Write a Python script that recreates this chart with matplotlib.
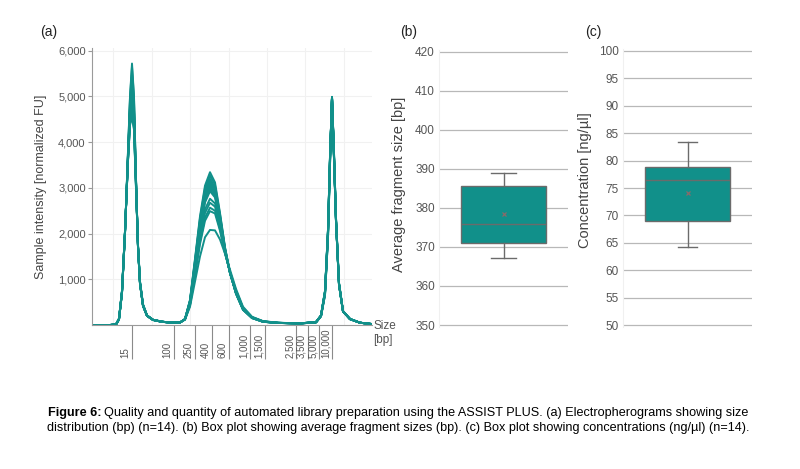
import matplotlib
matplotlib.use('Agg')
import matplotlib.pyplot as plt

plt.rcParams['font.family'] = ['Liberation Sans', 'DejaVu Sans']

# ---- (a) electropherograms: migration position of each sample point ----
position = [0, 18, 24, 27, 30, 33, 36, 38, 40, 42, 44, 46, 48, 51, 55, 61, 70, 80,
            88, 93, 98, 103, 108, 113, 118, 123, 128, 133, 138, 144, 151, 160, 171, 186, 208,
            224, 229, 233, 236, 238, 240, 242, 244, 247, 251, 258, 268, 280]

traces = [
    [0, 0, 10, 120, 700, 2000, 3800, 5000, 5720, 5000, 3200, 1700, 900, 420, 200, 110, 70, 50,
     55, 130, 550, 1450, 2380, 3050, 3343, 3120, 2450, 1700, 1150, 680, 330, 150, 70, 45, 35,
     60, 200, 700, 2000, 3600, 4990, 3700, 2300, 900, 300, 130, 50, 20],
    [0, 0, 10, 124, 710, 2020, 3720, 4780, 5300, 4720, 3150, 1705, 905, 422, 202, 111, 70, 50,
     55, 130, 540, 1420, 2330, 2990, 3271, 3060, 2420, 1690, 1150, 690, 335, 152, 70, 45, 35,
     65, 210, 740, 2080, 3680, 4970, 3640, 2260, 880, 295, 128, 50, 20],
    [0, 0, 10, 120, 700, 2000, 3780, 4960, 5650, 4950, 3190, 1700, 900, 420, 200, 110, 70, 50,
     55, 128, 530, 1390, 2280, 2920, 3199, 3000, 2380, 1670, 1140, 690, 340, 155, 72, 45, 35,
     55, 190, 660, 1920, 3520, 4980, 3760, 2340, 920, 305, 132, 50, 20],
    [0, 0, 11, 132, 730, 2038, 3650, 4540, 4900, 4460, 3090, 1720, 920, 432, 205, 113, 71, 51,
     55, 128, 520, 1360, 2240, 2880, 3150, 2960, 2360, 1660, 1140, 695, 342, 156, 72, 45, 35,
     62, 205, 720, 2040, 3640, 4960, 3680, 2280, 890, 298, 130, 50, 20],
    [0, 0, 10, 125, 712, 2020, 3710, 4750, 5250, 4690, 3140, 1705, 908, 423, 202, 111, 70, 50,
     55, 127, 515, 1340, 2210, 2840, 3111, 2930, 2340, 1650, 1140, 700, 345, 158, 73, 46, 35,
     60, 200, 700, 2000, 3600, 4990, 3700, 2300, 900, 300, 130, 50, 20],
    [0, 0, 12, 136, 740, 2045, 3620, 4440, 4700, 4350, 3050, 1730, 930, 440, 207, 114, 72, 52,
     55, 127, 505, 1310, 2170, 2800, 3060, 2890, 2320, 1645, 1140, 705, 348, 160, 74, 46, 35,
     65, 210, 740, 2080, 3680, 4970, 3640, 2260, 880, 295, 128, 50, 20],
    [0, 0, 10, 122, 705, 2010, 3750, 4880, 5500, 4850, 3170, 1700, 905, 420, 200, 110, 70, 50,
     55, 126, 500, 1290, 2140, 2760, 3024, 2860, 2300, 1640, 1140, 708, 350, 161, 74, 46, 35,
     55, 190, 660, 1920, 3520, 4980, 3760, 2340, 920, 305, 132, 50, 20],
    [0, 0, 12, 134, 735, 2042, 3635, 4480, 4800, 4400, 3070, 1725, 925, 435, 206, 113, 72, 51,
     55, 126, 490, 1270, 2100, 2710, 2970, 2820, 2280, 1630, 1140, 712, 352, 162, 75, 46, 35,
     62, 205, 720, 2040, 3640, 4960, 3680, 2280, 890, 298, 130, 50, 20],
    [0, 0, 11, 126, 715, 2025, 3700, 4720, 5200, 4660, 3135, 1708, 910, 424, 203, 111, 71, 50,
     55, 125, 485, 1250, 2070, 2680, 2928, 2790, 2260, 1625, 1140, 715, 354, 163, 75, 46, 35,
     60, 200, 700, 2000, 3600, 4990, 3700, 2300, 900, 300, 130, 50, 20],
    [0, 0, 12, 137, 743, 2047, 3610, 4420, 4650, 4330, 3040, 1735, 935, 443, 208, 114, 72, 52,
     55, 124, 465, 1180, 1960, 2530, 2762, 2660, 2190, 1600, 1150, 730, 362, 166, 77, 47, 35,
     65, 210, 740, 2080, 3680, 4970, 3640, 2260, 880, 295, 128, 50, 20],
    [0, 0, 11, 127, 718, 2028, 3690, 4690, 5150, 4630, 3130, 1710, 912, 425, 203, 112, 71, 51,
     55, 123, 455, 1150, 1900, 2450, 2675, 2590, 2150, 1590, 1150, 738, 366, 168, 78, 47, 35,
     55, 190, 660, 1920, 3520, 4980, 3760, 2340, 920, 305, 132, 50, 20],
    [0, 0, 12, 140, 750, 2050, 3600, 4400, 4600, 4300, 3000, 1750, 950, 450, 210, 115, 72, 52,
     55, 122, 440, 1110, 1820, 2350, 2566, 2500, 2100, 1580, 1160, 748, 372, 171, 80, 48, 35,
     62, 205, 720, 2040, 3640, 4960, 3680, 2280, 890, 298, 130, 50, 20],
    [0, 0, 11, 129, 722, 2032, 3670, 4630, 5050, 4560, 3115, 1715, 915, 428, 204, 112, 71, 51,
     55, 122, 430, 1080, 1770, 2280, 2491, 2440, 2060, 1570, 1165, 755, 376, 173, 81, 48, 35,
     60, 200, 700, 2000, 3600, 4990, 3700, 2300, 900, 300, 130, 50, 20],
    [0, 0, 12, 141, 752, 2052, 3590, 4370, 4550, 4270, 2990, 1752, 952, 452, 210, 115, 72, 52,
     55, 120, 400, 950, 1500, 1920, 2080, 2070, 1870, 1560, 1210, 790, 400, 180, 85, 50, 35,
     65, 210, 740, 2080, 3680, 4970, 3640, 2260, 880, 295, 128, 50, 20],
]

# size ladder: label and migration position
ladder_bp = ['15', '100', '250', '400', '600', '1,000', '1,500', '2,500', '3,500', '5,000', '10,000']
ladder_pos = [40, 81.5, 102.5, 120, 137, 158, 173, 204, 216, 227, 240]

intensity_ticks = [1000, 2000, 3000, 4000, 5000, 6000]

# ---- (b) and (c) box plot summaries ----
size_stats = dict(med=376.0, q1=371.1, q3=385.5, whislo=367.1, whishi=389.0, mean=378.4, fliers=[])
size_ticks = [350, 360, 370, 380, 390, 400, 410, 420]
conc_stats = dict(med=76.5, q1=68.9, q3=78.8, whislo=64.2, whishi=83.4, mean=74.1, fliers=[])
conc_ticks = [50, 55, 60, 65, 70, 75, 80, 85, 90, 95, 100]

TEAL = '#11908a'
TICK_GREY = '#555555'
W, H = 800, 469


def px_axes(left, top, right, bottom):
    return fig.add_axes([left / W, 1 - bottom / H, (right - left) / W, (bottom - top) / H])


fig = plt.figure(figsize=(8, 4.69), dpi=100)

# ---------------- (a) ----------------
ax = px_axes(92, 48, 372, 325)
for y in traces:
    ax.plot(position, y, color=TEAL, lw=1.4, solid_joinstyle='round')
ax.set_xlim(0, 280)
ax.set_ylim(0, 6060)
for gx in [21.3, 59.7, 98.1, 136.5, 174.9, 213.3, 251.7]:
    ax.axvline(gx, color='#f1f1f1', lw=0.8, zorder=0)
ax.set_yticks(intensity_ticks, labels=[f'{v:,}' for v in intensity_ticks])
ax.grid(axis='y', color='#f1f1f1', lw=0.8, zorder=0)
ax.set_axisbelow(True)
ax.set_xticks(ladder_pos, labels=[''] * len(ladder_pos))
ax.tick_params(axis='x', length=24.5, width=0.8, color='#8a8a8a', direction='out')
ax.tick_params(axis='y', length=3, width=0.8, color='#9a9a9a', labelsize=8, labelcolor=TICK_GREY, pad=1.5)
for s in ['top', 'right']:
    ax.spines[s].set_visible(False)
for s in ['left', 'bottom']:
    ax.spines[s].set_color('#9a9a9a')
for lab, p in zip(ladder_bp, ladder_pos):
    ax.annotate(lab, xy=(p, 0), xycoords=('data', 'axes fraction'), xytext=(-1, -23.5),
                textcoords='offset points', rotation=90, ha='right', va='bottom',
                fontsize=7, color=TICK_GREY)
ax.set_ylabel('Sample intensity [normalized FU]', fontsize=9, color='#444444')
ax.yaxis.set_label_coords(-0.161, 0.5)
fig.text(373 / W, 1 - 333 / H, 'Size\n[bp]', fontsize=8.5, color=TICK_GREY, va='center', ha='left',
         linespacing=1.25)


def box_panel(box, stats, ticks, lims, label, label_x, label_y, capw):
    a = px_axes(*box)
    a.bxp([stats], positions=[0], widths=0.66, patch_artist=True, showmeans=True, showfliers=False,
          capwidths=capw,
          boxprops=dict(facecolor=TEAL, edgecolor='#6b6b6b', linewidth=1.0),
          medianprops=dict(color='#6b6b6b', linewidth=1.0),
          whiskerprops=dict(color='#6b6b6b', linewidth=1.0),
          capprops=dict(color='#6b6b6b', linewidth=1.0),
          meanprops=dict(marker='x', markeredgecolor='#8a6a6a', markersize=3.5, markeredgewidth=0.9))
    a.set_xlim(-0.5, 0.5)
    a.set_ylim(*lims)
    a.set_yticks(ticks)
    a.set_xticks([])
    a.grid(axis='y', color='#b8b8b8', lw=0.9)
    a.set_axisbelow(True)
    a.tick_params(axis='y', length=0, labelsize=8.5, labelcolor=TICK_GREY, pad=3)
    for s in ['top', 'right', 'bottom']:
        a.spines[s].set_visible(False)
    a.spines['left'].set_color('#f0f0f0')
    a.set_ylabel(label, fontsize=10.5, color='#444444')
    a.yaxis.set_label_coords(label_x, label_y)
    return a


box_panel((439, 49.7, 568, 327), size_stats, size_ticks, (349.5, 420.5),
          'Average fragment size [bp]', -0.256, 0.516, 0.19)
box_panel((623, 48.8, 752, 327.2), conc_stats, conc_ticks, (49.6, 100.4),
          'Concentration [ng/µl]', -0.24, 0.53, 0.14)

for lab, x in [('(a)', 40), ('(b)', 400), ('(c)', 585)]:
    fig.text(x / W, 1 - 32 / H, lab, fontsize=10, color='#222222', va='center', ha='left')

# ---------------- caption ----------------
CAP_SIZE = 9.1
fig.canvas.draw()
r = fig.canvas.get_renderer()
y1 = 1 - 413 / H
t1 = fig.text(0, y1, 'Figure 6:', fontsize=CAP_SIZE, weight='bold', va='center')
t2 = fig.text(0, y1, 'Quality and quantity of automated library preparation using the ASSIST PLUS. '
              '(a) Electropherograms showing size', fontsize=CAP_SIZE, va='center')
w1 = t1.get_window_extent(r).width
w2 = t2.get_window_extent(r).width
gap = 3
x0 = 398 - (w1 + gap + w2) / 2
t1.set_x(x0 / W)
t2.set_x((x0 + w1 + gap) / W)
fig.text(398 / W, 1 - 428 / H, 'distribution (bp) (n=14). (b) Box plot showing average fragment sizes (bp). '
         '(c) Box plot showing concentrations (ng/µl) (n=14).', fontsize=CAP_SIZE,
         va='center', ha='center')

fig.savefig('out.png', dpi=100, facecolor='white')
